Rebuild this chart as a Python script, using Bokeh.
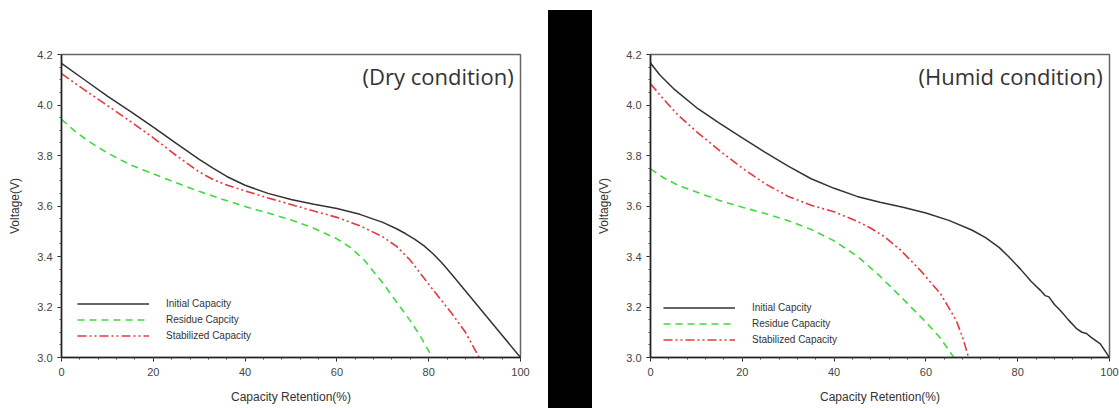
from bokeh.plotting import figure
from bokeh.layouts import row
from bokeh.models import Range1d, Legend, LegendItem, Label, FixedTicker, Div
from bokeh.embed import file_html
from bokeh.resources import INLINE

# ---------------- data ----------------
dry_init_x = [0, 5, 10, 15, 20, 25, 30, 33, 36, 40, 45, 50, 55, 60, 65, 70, 73, 75, 77, 79, 81,
              83, 85, 90, 95, 100]
dry_init_y = [4.165, 4.10, 4.035, 3.975, 3.912, 3.848, 3.785, 3.75, 3.717, 3.682, 3.65, 3.626,
              3.607, 3.59, 3.567, 3.535, 3.51, 3.49, 3.468, 3.442, 3.41, 3.372, 3.33, 3.22,
              3.11, 3.0]
dry_res_x = [0, 3, 6, 10, 15, 20, 25, 30, 35, 40, 45, 50, 55, 60, 63, 66, 70, 73, 76, 78, 80.8]
dry_res_y = [3.943, 3.895, 3.855, 3.81, 3.763, 3.727, 3.692, 3.658, 3.627, 3.598, 3.572, 3.545,
             3.512, 3.47, 3.435, 3.385, 3.295, 3.22, 3.145, 3.09, 3.0]
dry_stab_x = [0, 5, 10, 15, 20, 25, 30, 33, 36, 40, 45, 50, 55, 60, 65, 70, 73, 76, 80, 85,
              88, 91]
dry_stab_y = [4.124, 4.06, 3.998, 3.935, 3.87, 3.8, 3.735, 3.705, 3.683, 3.66, 3.632, 3.606,
              3.58, 3.555, 3.522, 3.478, 3.44, 3.385, 3.29, 3.175, 3.10, 3.0]

hum_init_x = [0, 2, 5, 10, 15, 20, 25, 30, 35, 40, 45, 50, 55, 60, 65, 70, 73, 76, 78, 80.6, 83,
              85, 86, 86.8, 88, 89.3, 91, 92.9, 94, 95, 96, 98, 100]
hum_init_y = [4.166, 4.12, 4.065, 3.99, 3.928, 3.87, 3.812, 3.758, 3.708, 3.67, 3.638, 3.615,
              3.595, 3.572, 3.543, 3.505, 3.475, 3.435, 3.40, 3.35, 3.30, 3.265, 3.245, 3.24,
              3.21, 3.186, 3.15, 3.113, 3.10, 3.095, 3.08, 3.054, 3.0]
hum_res_x = [0, 3, 6, 10, 15, 20, 25, 30, 35, 40, 45, 50, 55, 60, 63, 66.1]
hum_res_y = [3.747, 3.71, 3.682, 3.655, 3.622, 3.595, 3.57, 3.542, 3.507, 3.462, 3.402, 3.322,
             3.232, 3.14, 3.08, 3.0]
hum_stab_x = [0, 3, 6, 10, 15, 20, 25, 30, 35, 40, 45, 48, 51, 54.5, 58.8, 63.2, 66.6, 68, 69.3]
hum_stab_y = [4.084, 4.02, 3.96, 3.895, 3.82, 3.75, 3.688, 3.638, 3.603, 3.577, 3.54, 3.512,
              3.478, 3.425, 3.345, 3.252, 3.147, 3.08, 3.0]

x_ticks = [0, 20, 40, 60, 80, 100]
y_ticks = [3.0, 3.2, 3.4, 3.6, 3.8, 4.0, 4.2]
series_names = ["Initial Capacity", "Residue Capcity", "Stabilized Capacity"]
series_names_hum = ["Initial Capcity", "Residue Capacity", "Stabilized Capacity"]
titles = ["(Dry condition)", "(Humid condition)"]

BLACK = "#333333"
GREEN = "#3ddc3d"
RED = "#e8383c"
TICK_FONT = "Liberation Sans"


def make_panel(width, border_left, border_right, data, names, title, legend_loc):
    p = figure(width=width, height=408, output_backend="svg", toolbar_location=None,
               x_range=Range1d(0, 100), y_range=Range1d(3.0, 4.2),
               min_border_left=border_left, min_border_right=border_right,
               min_border_top=54, min_border_bottom=51)
    p.xgrid.visible = False
    p.ygrid.visible = False
    p.outline_line_color = "#666666"
    p.outline_line_width = 1.5
    p.background_fill_color = "white"
    p.border_fill_color = "white"

    for ax in (p.xaxis[0], p.yaxis[0]):
        ax.axis_line_color = "#222222"
        ax.axis_line_width = 1.5
        ax.major_tick_line_color = "#222222"
        ax.minor_tick_line_color = "#444444"
        ax.major_tick_out = 4
        ax.major_tick_in = 0
        ax.minor_tick_out = 2
        ax.minor_tick_in = 0
        ax.major_label_text_font = TICK_FONT
        ax.major_label_text_font_size = "11px"
        ax.major_label_text_color = "#444444"
        ax.axis_label_text_font = TICK_FONT
        ax.axis_label_text_font_size = "12px"
        ax.axis_label_text_font_style = "normal"
        ax.axis_label_text_color = "#333333"

    p.xaxis.ticker = FixedTicker(ticks=x_ticks,
                                 minor_ticks=[v for v in range(0, 101, 4)])
    p.yaxis.ticker = FixedTicker(ticks=y_ticks,
                                 minor_ticks=[round(3.0 + 0.05 * i, 3) for i in range(25)])
    p.yaxis.major_label_overrides = {t: f"{t:.1f}" for t in y_ticks}
    p.xaxis.axis_label = "Capacity Retention(%)"
    p.yaxis.axis_label = "Voltage(V)"
    p.xaxis.major_label_standoff = 6
    p.yaxis.major_label_standoff = 5
    p.xaxis.axis_label_standoff = 11
    p.yaxis.axis_label_standoff = 12

    (ix, iy), (rx, ry), (sx, sy) = data
    r1 = p.line(ix, iy, line_color=BLACK, line_width=1.5)
    r2 = p.line(rx, ry, line_color=GREEN, line_width=1.6, line_dash="7 5")
    r3 = p.line(sx, sy, line_color=RED, line_width=1.6, line_dash="9 3 2 3 2 3")

    legend = Legend(items=[LegendItem(label=names[0], renderers=[r1]),
                           LegendItem(label=names[1], renderers=[r2]),
                           LegendItem(label=names[2], renderers=[r3])],
                    location=legend_loc, glyph_width=72, glyph_height=15,
                    label_height=15, spacing=1, padding=0, margin=0,
                    label_standoff=17, border_line_color=None,
                    background_fill_alpha=0,
                    label_text_font=TICK_FONT, label_text_font_size="10px",
                    label_text_color="#333333")
    p.add_layout(legend, "center")

    p.add_layout(Label(x=98.5, y=4.115, text=title, text_align="right",
                       text_baseline="middle", text_font="Open Sans",
                       text_font_size="22px", text_color="#333333"))
    return p


p1 = make_panel(548, 61, 28,
                [(dry_init_x, dry_init_y), (dry_res_x, dry_res_y), (dry_stab_x, dry_stab_y)],
                series_names, titles[0], (16, 14))

bar = Div(text='<div style="margin:10px 0 0 0;width:44px;height:398px;background:#000"></div>',
          width=44, height=408, margin=0,
          styles={"padding": "0", "margin": "0"})

p2 = make_panel(527, 58, 10,
                [(hum_init_x, hum_init_y), (hum_res_x, hum_res_y), (hum_stab_x, hum_stab_y)],
                series_names_hum, titles[1], (13, 10))

layout = row(p1, bar, p2, spacing=0)
open("out.html", "w").write(file_html(layout, INLINE))
